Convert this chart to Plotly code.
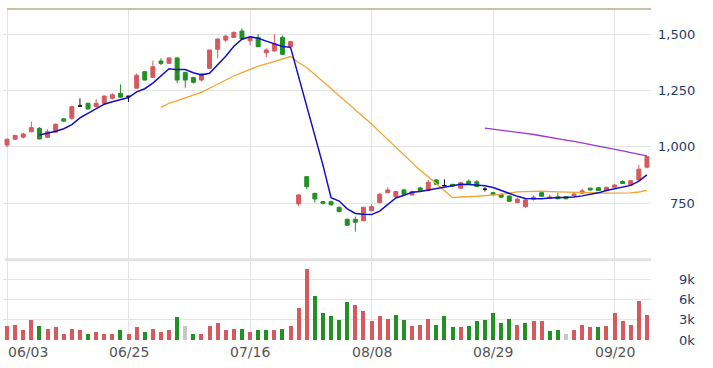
import plotly.graph_objects as go

# ---------------- data ----------------
tick_labels = ["06/03", "06/25", "07/16", "08/08", "08/29", "09/20"]
tick_days = [0, 15, 30, 45, 60, 75]

open_ = [1008, 1034, 1043, 1067, 1082, 1042, 1065, 1124, 1127, 1181,
         1193, 1178, 1193, 1215, 1237, 1224, 1260, 1333, 1308, 1380,
         1370, 1394, 1329, 1307, 1296, 1348, 1432, 1473, 1485, 1513,
         1470, 1485, 1417, 1425, 1485, 1444, 747, 868, 794, 757,
         757, 732, 679, 679, 673, 717, 753, 797, 779, 809,
         787, 818, 806, 853, 828, 834, 817, 848, 845, 812,
         797, 790, 782, 753, 735, 768, 797, 771, 779, 779,
         783, 794, 817, 819, 806, 821, 846, 831, 853, 910]
high = [1036, 1054, 1062, 1112, 1088, 1078, 1103, 1127, 1182, 1215,
        1196, 1212, 1228, 1238, 1277, 1224, 1325, 1336, 1382, 1392,
        1396, 1396, 1333, 1310, 1326, 1431, 1480, 1494, 1512, 1525,
        1490, 1500, 1437, 1500, 1493, 1470, 790, 870, 796, 760,
        762, 735, 682, 691, 735, 746, 795, 821, 806, 815,
        806, 823, 853, 857, 856, 836, 845, 856, 853, 821,
        800, 792, 785, 775, 768, 785, 800, 788, 797, 782,
        795, 815, 819, 821, 823, 834, 852, 853, 920, 960]
low = [998, 1030, 1037, 1065, 1033, 1040, 1063, 1111, 1120, 1181,
       1165, 1176, 1190, 1210, 1218, 1199, 1258, 1294, 1305, 1362,
       1368, 1282, 1262, 1280, 1290, 1345, 1392, 1464, 1482, 1475,
       1451, 1442, 1397, 1422, 1408, 1440, 737, 812, 753, 745,
       741, 711, 650, 624, 670, 715, 750, 795, 776, 788,
       783, 804, 804, 832, 828, 822, 815, 834, 822, 802,
       785, 775, 757, 750, 730, 762, 779, 769, 768, 767,
       781, 792, 806, 804, 804, 819, 836, 829, 850, 905]
close = [1034, 1050, 1057, 1085, 1035, 1067, 1100, 1114, 1178, 1181,
         1168, 1193, 1225, 1231, 1220, 1224, 1317, 1296, 1355, 1370,
         1394, 1296, 1296, 1286, 1323, 1429, 1478, 1491, 1507, 1478,
         1485, 1444, 1429, 1456, 1410, 1466, 787, 824, 769, 750,
         743, 713, 653, 666, 732, 735, 790, 809, 802, 790,
         802, 806, 843, 834, 828, 826, 841, 836, 824, 812,
         788, 777, 759, 768, 765, 777, 781, 778, 770, 770,
         791, 805, 809, 806, 821, 831, 838, 850, 901, 957]

# volume in thousands of shares
volume_k = [2.1, 2.3, 1.5, 3.0, 2.1, 1.7, 1.9, 0.95, 1.7, 1.5,
            0.95, 1.2, 1.0, 1.0, 1.5, 1.0, 1.9, 1.2, 1.7, 1.2,
            1.5, 3.4, 2.1, 1.0, 1.0, 2.1, 2.5, 1.5, 1.7, 1.7,
            1.3, 1.5, 1.5, 1.5, 1.7, 2.1, 4.85, 10.5, 6.6, 4.0,
            3.6, 3.0, 5.65, 5.25, 4.3, 2.9, 3.6, 3.2, 3.75, 3.0,
            2.1, 2.3, 3.2, 2.3, 3.6, 1.9, 1.9, 2.1, 2.8, 3.0,
            4.1, 2.6, 3.2, 2.3, 2.6, 2.8, 2.8, 1.35, 1.5, 0.95,
            1.5, 2.3, 1.9, 1.9, 2.1, 4.1, 2.8, 2.3, 5.85, 3.75]
# day-over-day change direction (as coloured on the volume bars)
change_dir = ["up", "up", "up", "up", "down", "up", "up", "up", "up", "up",
              "down", "up", "up", "up", "down", "up", "up", "down", "up", "up",
              "up", "down", "flat", "down", "up", "up", "up", "up", "up", "down",
              "up", "down", "down", "up", "down", "up", "up", "up", "down", "down",
              "down", "down", "down", "up", "up", "up", "up", "up", "down", "down",
              "up", "up", "up", "down", "down", "down", "up", "down", "down", "down",
              "down", "down", "down", "up", "down", "up", "up", "down", "down", "flat",
              "up", "up", "up", "down", "up", "up", "up", "up", "up", "up"]

ma5_start = 4
ma5 = [1052.2, 1058.8, 1068.8, 1080.2, 1098.8, 1128.0, 1148.2, 1166.8, 1189.0, 1199.6,
       1207.4, 1218.6, 1243.4, 1257.6, 1282.4, 1312.4, 1346.4, 1342.2, 1342.2, 1328.4,
       1319.0, 1326.0, 1362.4, 1401.4, 1445.6, 1476.6, 1487.8, 1481.0, 1468.6, 1458.4,
       1444.8, 1441.0, 1309.6, 1188.6, 1051.2, 919.2, 774.6, 759.8, 725.6, 705.0,
       701.4, 699.8, 715.2, 746.4, 773.6, 785.2, 798.6, 801.8, 808.6, 815.0,
       822.6, 827.4, 834.4, 833.0, 831.0, 827.8, 820.2, 807.4, 792.0, 780.8,
       771.4, 769.2, 770.0, 773.8, 774.2, 775.2, 778.0, 782.8, 789.0, 796.2,
       806.4, 814.4, 821.0, 829.2, 848.2, 875.4]
ma20_start = 19
ma20 = [1175.0, 1193.0, 1205.3, 1217.3, 1227.3, 1241.7, 1259.8, 1278.7, 1297.6, 1314.0,
        1328.9, 1344.7, 1357.3, 1367.5, 1378.7, 1388.2, 1400.3, 1373.8, 1350.2, 1320.9,
        1289.9, 1257.4, 1228.2, 1196.1, 1165.1, 1135.5, 1100.8, 1066.4, 1032.3, 997.1,
        962.7, 928.5, 896.6, 867.3, 836.2, 807.1, 775.1, 777.8, 778.4, 781.2,
        784.3, 786.5, 789.7, 795.0, 800.1, 801.8, 803.9, 803.4, 801.9, 800.3,
        799.3, 798.7, 798.7, 797.0, 795.6, 795.2, 795.5, 795.3, 796.0, 799.9,
        807.1]
ma60_start = 59
ma60 = [1083.0, 1078.9, 1074.4, 1069.4, 1064.1, 1059.6, 1054.8, 1049.4, 1043.8, 1037.0,
        1030.2, 1023.9, 1017.4, 1010.5, 1003.4, 996.8, 990.2, 982.2, 974.8, 967.2,
        960.4]

price_ticks = [750, 1000, 1250, 1500]
volume_ticks = [0, 3, 6, 9]

# ---------------- styling ----------------
RED = "#d55a5e"
GREEN = "#229022"
GRAY = "#c8c8c8"
GRID = "#e4e4e4"
LABEL = "#1f3c6e"
FONT = "DejaVu Sans"

n = len(close)
days = list(range(n))

fig = go.Figure()

# regular candles
reg = [i for i in days if open_[i] != close[i]]
fig.add_trace(go.Candlestick(
    x=[days[i] for i in reg],
    open=[open_[i] for i in reg], high=[high[i] for i in reg],
    low=[low[i] for i in reg], close=[close[i] for i in reg],
    increasing=dict(line=dict(color=RED, width=1), fillcolor=RED),
    decreasing=dict(line=dict(color=GREEN, width=1), fillcolor=GREEN),
    whiskerwidth=0, xaxis="x", yaxis="y", hoverinfo="skip", showlegend=False))
# doji candles (open == close) in black
dj = [i for i in days if open_[i] == close[i]]
fig.add_trace(go.Candlestick(
    x=[days[i] for i in dj],
    open=[open_[i] for i in dj], high=[high[i] for i in dj],
    low=[low[i] for i in dj], close=[close[i] for i in dj],
    increasing=dict(line=dict(color="#111111", width=1), fillcolor="#111111"),
    decreasing=dict(line=dict(color="#111111", width=1), fillcolor="#111111"),
    whiskerwidth=0, xaxis="x", yaxis="y", hoverinfo="skip", showlegend=False))

# moving averages
fig.add_trace(go.Scatter(x=days[ma60_start:], y=ma60, mode="lines",
                         line=dict(color="#9b36d6", width=1.3),
                         xaxis="x", yaxis="y", hoverinfo="skip", showlegend=False))
fig.add_trace(go.Scatter(x=days[ma20_start:], y=ma20, mode="lines",
                         line=dict(color="#f2a530", width=1.3),
                         xaxis="x", yaxis="y", hoverinfo="skip", showlegend=False))
fig.add_trace(go.Scatter(x=days[ma5_start:], y=ma5, mode="lines",
                         line=dict(color="#1010c8", width=1.5),
                         xaxis="x", yaxis="y", hoverinfo="skip", showlegend=False))

# volume
dir_color = {"up": RED, "down": GREEN, "flat": GRAY}
fig.add_trace(go.Bar(x=days, y=volume_k, width=0.5,
                     marker=dict(color=[dir_color[d] for d in change_dir], line=dict(width=0)),
                     xaxis="x2", yaxis="y2", hoverinfo="skip", showlegend=False))

W, H = 713, 368
ML, MR, MT, MB = 3, 62, 9, 28
plot_h = H - MT - MB
split = (340 - 259.7) / plot_h  # boundary between volume and price panels

xr = [-0.5, n - 0.5]
common_x = dict(range=xr, tickvals=tick_days, showticklabels=False, ticks="",
                showgrid=True, gridcolor=GRID, gridwidth=1, zeroline=False,
                showline=False, fixedrange=True)
fig.update_layout(
    width=W, height=H,
    margin=dict(l=ML, r=MR, t=MT, b=MB, pad=0),
    paper_bgcolor="white", plot_bgcolor="white",
    font=dict(family=FONT, size=13, color=LABEL),
    xaxis=dict(**common_x, anchor="y", rangeslider=dict(visible=False)),
    xaxis2=dict(**common_x, anchor="y2", matches="x"),
    yaxis=dict(domain=[split, 1], range=[500, 1610.8], tickvals=[500] + price_ticks,
               showticklabels=False, showgrid=True, gridcolor=GRID, zeroline=False,
               fixedrange=True, anchor="x"),
    yaxis2=dict(domain=[0, split], range=[0, 11.9], tickvals=volume_ticks,
                showticklabels=False, showgrid=True, gridcolor=GRID, zeroline=False,
                fixedrange=True, anchor="x2"),
    bargap=0, hovermode=False,
)

# panel top border and separator
fig.add_shape(type="line", xref="x", yref="paper", x0=0, x1=n - 0.5, y0=1, y1=1,
              line=dict(color="#b8aa8c", width=1.5))
fig.add_shape(type="line", xref="x", yref="paper", x0=-0.25, x1=n - 0.5, y0=split, y1=split,
              line=dict(color="#e2e2e2", width=3))

# right-aligned axis labels
label_x = (697 - ML) / (W - ML - MR)
for v in price_ticks:
    fig.add_annotation(x=label_x, xref="paper", y=v, yref="y", text=f"{v:,}",
                       showarrow=False, xanchor="right", yanchor="middle",
                       font=dict(family=FONT, size=13, color=LABEL))
for v in volume_ticks:
    fig.add_annotation(x=label_x, xref="paper", y=v, yref="y2", text=f"{v}k",
                       showarrow=False, xanchor="right", yanchor="middle",
                       font=dict(family=FONT, size=13, color=LABEL))
# date labels
for k, (d, t) in enumerate(zip(tick_days, tick_labels)):
    fig.add_annotation(x=d, xref="x", y=-12 / plot_h, yref="paper", text=t,
                       showarrow=False, xanchor="left" if k == 0 else "center",
                       xshift=-1 if k == 0 else 0, yanchor="middle",
                       font=dict(family=FONT, size=14, color="#555555"))

# the page's default 8px body margin would shift the whole chart; remove it
fig.write_html("out.html", config={"displayModeBar": False},
               post_script="document.body.style.margin='0';")
